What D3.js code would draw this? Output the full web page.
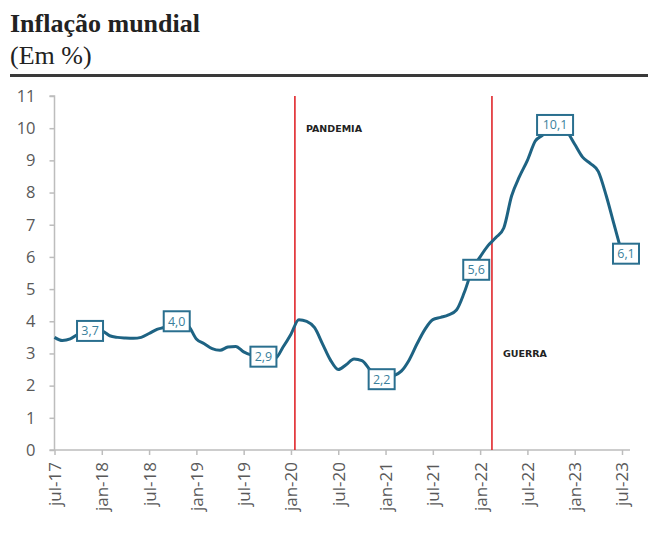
<!DOCTYPE html>
<html>
<head>
<meta charset="utf-8">
<script src="https://cdn.jsdelivr.net/npm/d3@7"></script>
<style>
  body { margin: 0; background: #fff; }
</style>
</head>
<body>
<div id="chart"></div>
<script>
// monthly series, jul-17 .. jul-23
var inflation = [
    3.5, 3.4, 3.45, 3.6, 3.7, 3.7, 3.7, 3.55, 3.5, 3.48, 3.47, 3.5,
    3.62, 3.75, 3.82, 4.0, 3.95, 3.85, 3.45, 3.3, 3.15, 3.1, 3.2, 3.22,
    3.05, 2.95, 2.9, 2.9, 2.85, 3.2, 3.6, 4.05, 4.0, 3.8, 3.3, 2.8,
    2.5, 2.65, 2.83, 2.78, 2.5, 2.2, 2.25, 2.3, 2.45, 2.8, 3.3, 3.75,
    4.05, 4.12, 4.2, 4.35, 4.9, 5.6, 6.0, 6.35, 6.6, 6.9, 7.9, 8.5,
    9.0, 9.6, 9.8, 10.1, 10.1, 9.9, 9.5, 9.1, 8.9, 8.65, 7.9, 7.0,
    6.1
];

// indices of the labelled points
var labelIdx = [4, 15, 26, 41, 53, 63, 72];

// x tick labels every 6 months
var tickIdx = [0, 6, 12, 18, 24, 30, 36, 42, 48, 54, 60, 66, 72];
var tickLabels = ["jul-17", "jan-18", "jul-18", "jan-19", "jul-19", "jan-20", "jul-20",
    "jan-21", "jul-21", "jan-22", "jul-22", "jan-23", "jul-23"];

var yTicks = [0, 1, 2, 3, 4, 5, 6, 7, 8, 9, 10, 11];

// events (month index)
var events = [
    { name: "PANDEMIA", idx: 30.5, labelY: 10 },
    { name: "GUERRA", idx: 55.5, labelY: 3 }
];

var w = 648;
var h = 534;
var plotLeft = 54.5, plotRight = 622, plotTop = 96, plotBottom = 450;

var svg = d3.select("#chart")
    .append("svg")
    .attr("width", w)
    .attr("height", h);

// title
svg.append("text")
    .attr("x", 10)
    .attr("y", 32)
    .attr("font-family", "Liberation Serif, serif")
    .attr("font-weight", "bold")
    .attr("font-size", "26px")
    .attr("fill", "#222")
    .text("Inflação mundial");

svg.append("text")
    .attr("x", 10)
    .attr("y", 64)
    .attr("font-family", "Liberation Serif, serif")
    .attr("font-size", "26px")
    .attr("fill", "#222")
    .text("(Em %)");

svg.append("line")
    .attr("x1", 10).attr("x2", w)
    .attr("y1", 75.5).attr("y2", 75.5)
    .attr("stroke", "#3a3a3a")
    .attr("stroke-width", 3);

var x = d3.scaleLinear().domain([0, 72]).range([plotLeft, plotRight]);
var y = d3.scaleLinear().domain([0, 11]).range([plotBottom, plotTop]);

// y axis
var yAxis = d3.axisLeft(y)
    .tickValues(yTicks)
    .tickSize(5)
    .tickPadding(14)
    .tickFormat(d3.format("d"));

var gy = svg.append("g")
    .attr("transform", "translate(" + plotLeft + ",0)")
    .call(yAxis);
gy.select(".domain").attr("stroke", "#bdbdbd").attr("stroke-width", 1.5)
    .attr("d", "M-5," + plotTop + "H0V" + plotBottom);
gy.selectAll(".tick line").attr("stroke", "#bdbdbd").attr("stroke-width", 1.5);
gy.selectAll(".tick text")
    .attr("font-family", "Open Sans, sans-serif")
    .attr("font-size", "16.5px")
    .attr("fill", "#595959");

// x axis
var xAxis = d3.axisBottom(x)
    .tickValues(tickIdx)
    .tickSize(5)
    .tickFormat(function (d, i) { return tickLabels[i]; });

var gx = svg.append("g")
    .attr("transform", "translate(0," + plotBottom + ")")
    .call(xAxis);
gx.select(".domain").attr("stroke", "#bdbdbd").attr("stroke-width", 1.5)
    .attr("d", "M" + (plotLeft - 5) + ",0H" + (plotRight + 8));
gx.selectAll(".tick line").attr("stroke", "#bdbdbd").attr("stroke-width", 1.5);
gx.selectAll(".tick text")
    .attr("font-family", "Open Sans, sans-serif")
    .attr("font-size", "17px")
    .attr("fill", "#595959")
    .attr("text-anchor", "end")
    .attr("dy", "0.35em")
    .attr("transform", "translate(0,12) rotate(-90)")
    .attr("x", 0)
    .attr("y", 0);

// event lines
svg.selectAll(".event")
    .data(events)
    .enter()
    .append("line")
    .attr("x1", function (d) { return x(d.idx); })
    .attr("x2", function (d) { return x(d.idx); })
    .attr("y1", y(11))
    .attr("y2", y(0))
    .attr("stroke", "#e0262b")
    .attr("stroke-width", 1.6);

svg.selectAll(".eventLabel")
    .data(events)
    .enter()
    .append("text")
    .attr("x", function (d) { return x(d.idx) + 11; })
    .attr("y", function (d) { return y(d.labelY) + 4; })
    .attr("font-family", "DejaVu Sans, sans-serif")
    .attr("font-weight", "bold")
    .attr("font-size", "9.5px")
    .attr("fill", "#222")
    .text(function (d) { return d.name; });

// series line
var line = d3.line()
    .x(function (d, i) { return x(i); })
    .y(function (d) { return y(d); })
    .curve(d3.curveMonotoneX);

svg.append("path")
    .datum(inflation)
    .attr("d", line)
    .attr("fill", "none")
    .attr("stroke", "#1e6383")
    .attr("stroke-width", 3)
    .attr("stroke-linejoin", "round");

// data labels
var fmt = function (v) { return d3.format(".1f")(v).replace(".", ","); };

var labels = svg.selectAll(".dl")
    .data(labelIdx)
    .enter()
    .append("g")
    .attr("transform", function (d) {
        return "translate(" + (x(d) + 4) + "," + y(inflation[d]) + ")";
    });

labels.append("rect")
    .attr("x", function (d) { return inflation[d] >= 10 ? -18 : -13; })
    .attr("y", -10)
    .attr("width", function (d) { return inflation[d] >= 10 ? 36 : 26; })
    .attr("height", 20)
    .attr("fill", "#fff")
    .attr("stroke", "#2a6f8f")
    .attr("stroke-width", 2);

labels.append("text")
    .attr("text-anchor", "middle")
    .attr("dy", "0.35em")
    .attr("font-family", "Open Sans, sans-serif")
    .attr("font-size", "12.5px")
    .attr("fill", "#3b7f9c")
    .text(function (d) { return fmt(inflation[d]); });
</script>
</body>
</html>
